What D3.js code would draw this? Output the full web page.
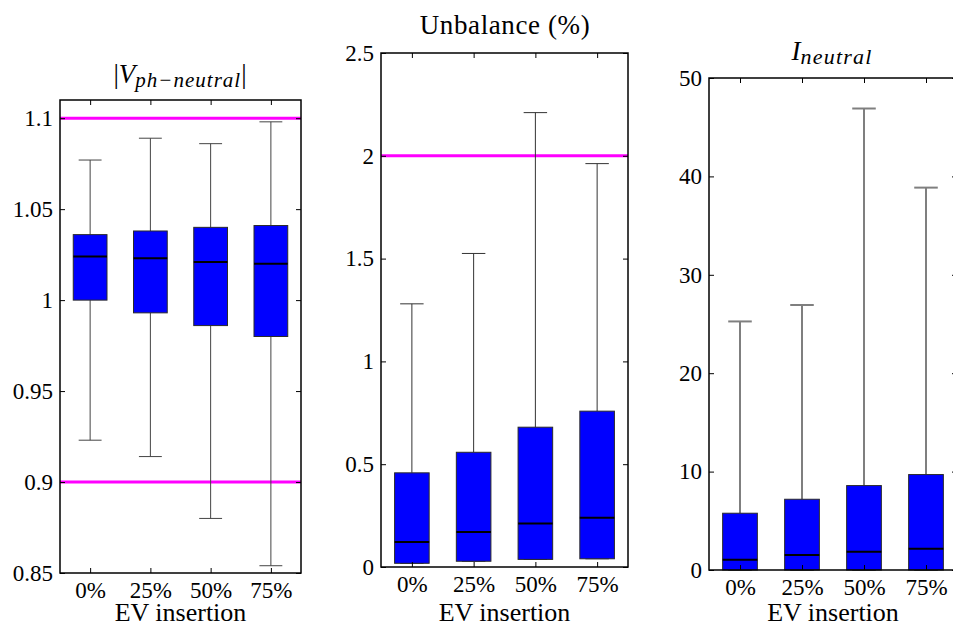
<!DOCTYPE html>
<html>
<head>
<meta charset="utf-8">
<script src="https://cdn.jsdelivr.net/npm/d3@7"></script>
<style>
  html, body { margin: 0; padding: 0; background: #fff; }
  svg { display: block; }
</style>
</head>
<body>
<svg id="chart" width="953" height="626"></svg>
<script>
// EV insertion levels (x categories shared by every panel)
const categories = ["0%", "25%", "50%", "75%"];

// Phase-to-neutral voltage magnitude (p.u.)
const vphLower  = [0.923, 0.914, 0.880, 0.854];
const vphQ1     = [1.000, 0.993, 0.986, 0.980];
const vphMedian = [1.024, 1.023, 1.021, 1.020];
const vphQ3     = [1.036, 1.038, 1.040, 1.041];
const vphUpper  = [1.077, 1.089, 1.086, 1.098];
const vphTicks  = [0.85, 0.9, 0.95, 1, 1.05, 1.1];
const vphLimits = [0.9, 1.1];

// Voltage unbalance (%)
const unbLower  = [0.018, 0.028, 0.037, 0.040];
const unbQ1     = [0.018, 0.028, 0.037, 0.040];
const unbMedian = [0.122, 0.170, 0.211, 0.239];
const unbQ3     = [0.458, 0.558, 0.680, 0.758];
const unbUpper  = [1.280, 1.525, 2.210, 1.962];
const unbTicks  = [0, 0.5, 1, 1.5, 2, 2.5];
const unbLimits = [2];

// Neutral current
const inLower  = [0, 0, 0, 0];
const inQ1     = [0, 0, 0, 0];
const inMedian = [1.05, 1.53, 1.86, 2.17];
const inQ3     = [5.77, 7.19, 8.58, 9.70];
const inUpper  = [25.26, 26.93, 46.9, 38.86];
const inTicks  = [0, 10, 20, 30, 40, 50];
const inLimits = [];

const FONT = "Liberation Serif";
const svg = d3.select("#chart");

function rows(lo, q1, med, q3, up) {
  return categories.map((c, i) => ({ cat: c, lo: lo[i], q1: q1[i], med: med[i], q3: q3[i], up: up[i] }));
}

function drawPanel(cfg) {
  const { left, right, top, bottom, domain, ticks, data, limits, whisker } = cfg;
  const g = svg.append("g");

  const x = d3.scalePoint().domain(categories).range([left, right]).padding(0.5);
  const y = d3.scaleLinear().domain(domain).range([bottom, top]);
  const step = x.step();
  const boxW = step * 0.56;
  const capW = step * 0.38;

  // limit lines
  g.selectAll("line.limit").data(limits).join("line")
    .attr("class", "limit")
    .attr("x1", left).attr("x2", right)
    .attr("y1", d => y(d)).attr("y2", d => y(d))
    .attr("stroke", "#ff00ff").attr("stroke-width", 3);

  const b = g.selectAll("g.box").data(data).join("g").attr("class", "box");

  // whiskers and caps
  b.append("line")
    .attr("x1", d => x(d.cat)).attr("x2", d => x(d.cat))
    .attr("y1", d => y(d.q3)).attr("y2", d => y(d.up))
    .attr("stroke", whisker.color).attr("stroke-width", whisker.width);
  b.append("line")
    .attr("x1", d => x(d.cat)).attr("x2", d => x(d.cat))
    .attr("y1", d => y(d.q1)).attr("y2", d => y(d.lo))
    .attr("stroke", whisker.color).attr("stroke-width", whisker.width);
  b.append("line")
    .attr("x1", d => x(d.cat) - capW / 2).attr("x2", d => x(d.cat) + capW / 2)
    .attr("y1", d => y(d.up)).attr("y2", d => y(d.up))
    .attr("stroke", whisker.color).attr("stroke-width", whisker.width);
  b.append("line")
    .attr("x1", d => x(d.cat) - capW / 2).attr("x2", d => x(d.cat) + capW / 2)
    .attr("y1", d => y(d.lo)).attr("y2", d => y(d.lo))
    .attr("stroke", whisker.color).attr("stroke-width", whisker.width);

  // interquartile boxes
  b.append("rect")
    .attr("x", d => x(d.cat) - boxW / 2)
    .attr("width", boxW)
    .attr("y", d => y(d.q3))
    .attr("height", d => y(d.q1) - y(d.q3))
    .attr("fill", "#0000ff").attr("stroke", "#2a2a2a").attr("stroke-width", 1);

  // medians
  b.append("line")
    .attr("x1", d => x(d.cat) - boxW / 2).attr("x2", d => x(d.cat) + boxW / 2)
    .attr("y1", d => y(d.med)).attr("y2", d => y(d.med))
    .attr("stroke", "#000").attr("stroke-width", 2);

  // axes with inward ticks
  const fmt = d3.format("~g");
  const yl = g.append("g").attr("transform", `translate(${left},0)`)
    .call(d3.axisLeft(y).tickValues(ticks).tickFormat(fmt).tickSize(-5).tickPadding(7));
  const yr = g.append("g").attr("transform", `translate(${right},0)`)
    .call(d3.axisRight(y).tickValues(ticks).tickFormat("").tickSize(-5));
  const xb = g.append("g").attr("transform", `translate(0,${bottom})`)
    .call(d3.axisBottom(x).tickSize(-5).tickPadding(9));
  const xt = g.append("g").attr("transform", `translate(0,${top})`)
    .call(d3.axisTop(x).tickFormat("").tickSize(-5));
  [yl, yr, xb, xt].forEach(a => {
    a.attr("font-family", null).attr("font-size", null);
    a.select(".domain").remove();
    a.selectAll(".tick line").attr("stroke", "#000").attr("stroke-width", 1);
    a.selectAll(".tick text")
      .attr("font-family", FONT).attr("font-size", 23).attr("fill", "#000");
  });

  // frame
  g.append("rect")
    .attr("x", left).attr("y", top)
    .attr("width", right - left).attr("height", bottom - top)
    .attr("fill", "none").attr("stroke", "#000").attr("stroke-width", 1.5);

  // x label
  g.append("text")
    .attr("x", (left + right) / 2).attr("y", 621)
    .attr("text-anchor", "middle")
    .attr("font-family", FONT).attr("font-size", 26)
    .text("EV insertion");

  return { g, x, y };
}

drawPanel({
  left: 60, right: 301, top: 100, bottom: 573, domain: [0.85, 1.11], ticks: vphTicks,
  data: rows(vphLower, vphQ1, vphMedian, vphQ3, vphUpper), limits: vphLimits,
  whisker: { color: "#444", width: 1 }
});
drawPanel({
  left: 381, right: 628, top: 53, bottom: 567, domain: [0, 2.5], ticks: unbTicks,
  data: rows(unbLower, unbQ1, unbMedian, unbQ3, unbUpper), limits: unbLimits,
  whisker: { color: "#333", width: 1 }
});
drawPanel({
  left: 709, right: 957, top: 78, bottom: 570, domain: [0, 50], ticks: inTicks,
  data: rows(inLower, inQ1, inMedian, inQ3, inUpper), limits: inLimits,
  whisker: { color: "#7f7f7f", width: 2 }
});

// panel titles
const t1 = svg.append("text").attr("x", 180).attr("y", 83).attr("text-anchor", "middle")
  .attr("font-family", FONT).attr("font-size", 27);
t1.append("tspan").text("|");
t1.append("tspan").attr("font-style", "italic").text("V");
t1.append("tspan").attr("font-style", "italic").attr("font-size", 21).attr("dy", 4).attr("letter-spacing", 1).text("ph\u2212neutral");
t1.append("tspan").attr("dy", -4).text("|");

svg.append("text").attr("x", 505).attr("y", 34).attr("text-anchor", "middle")
  .attr("font-family", FONT).attr("font-size", 27).attr("letter-spacing", 0.6).text("Unbalance (%)");

const t3 = svg.append("text").attr("x", 832).attr("y", 60).attr("text-anchor", "middle")
  .attr("font-family", FONT).attr("font-size", 27);
t3.append("tspan").attr("font-style", "italic").text("I");
t3.append("tspan").attr("font-style", "italic").attr("font-size", 22).attr("dy", 4).attr("letter-spacing", 1.2).text("neutral");
</script>
</body>
</html>
